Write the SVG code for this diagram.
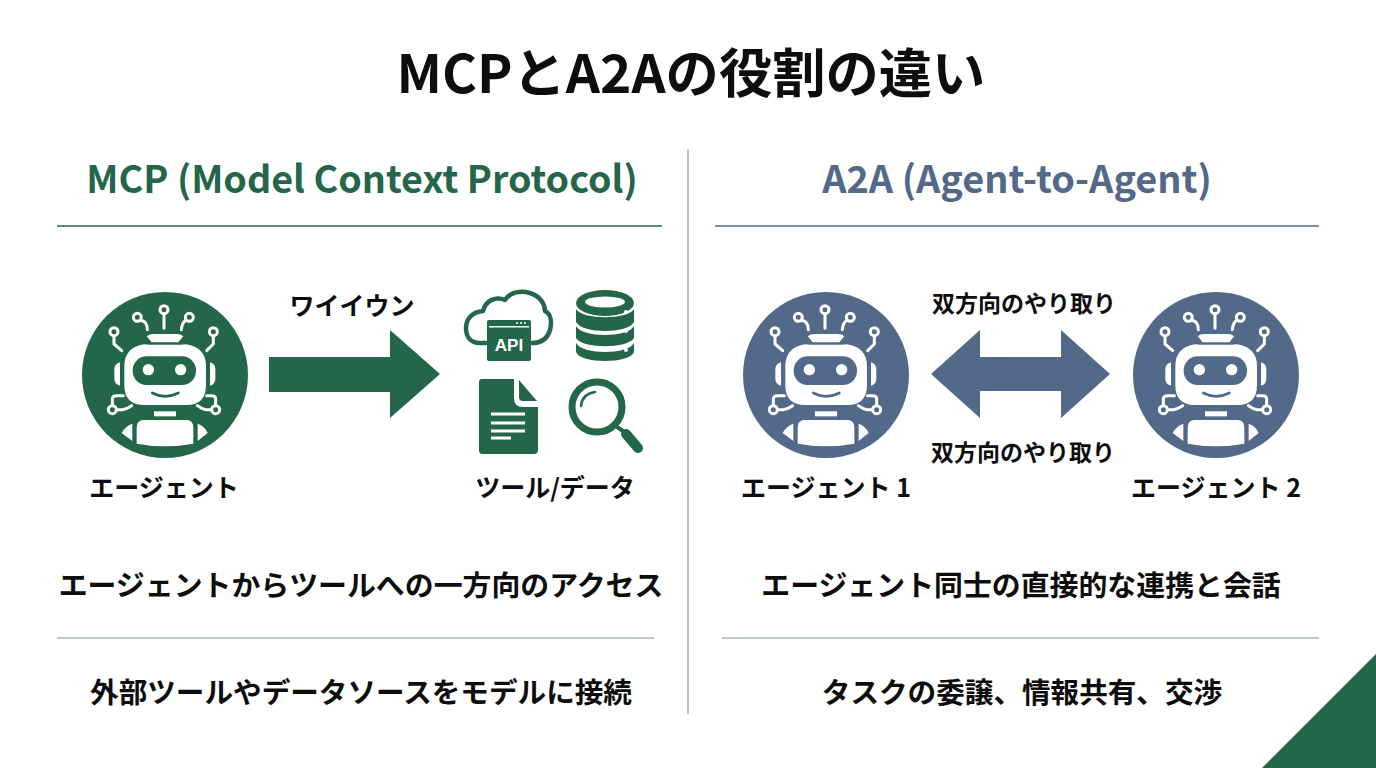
<svg xmlns="http://www.w3.org/2000/svg" xmlns:xlink="http://www.w3.org/1999/xlink" width="1376" height="768" viewBox="0 0 1376 768">
<style>
text{font-family:"Noto Sans CJK JP","Noto Sans",sans-serif;font-weight:700;fill:#0d0d0d;text-anchor:middle}
.title{font-size:53.3px}
.head{font-size:37.7px}
.lab{font-size:25px}
.mid{font-size:23px}
.sub{font-size:28.9px}
.sub2{font-size:28.6px}
.rule{stroke-width:1.5;fill:none}
.w{fill:#fff}
.ws{fill:none;stroke:#fff;stroke-width:9;stroke-linecap:round;stroke-linejoin:round}
.g{fill:#24664a}
.gs{fill:none;stroke:#24664a;stroke-linecap:round;stroke-linejoin:round}
</style>
<defs>
<g id="robot">
<circle r="83" fill="currentColor"/>
<g transform="scale(.3333) translate(-285,-288)">
<path class="w" d="M230 172Q238 165 250 165H320Q332 165 340 172L325 190H245Z"/>
<path class="w" d="M222 196L238 197H332L348 196Q408 205 408 262V318Q408 378 350 378H222Q163 378 163 318V262Q163 205 222 196Z"/>
<rect x="188" y="232" width="190" height="86" rx="42" fill="currentColor"/>
<circle class="w" cx="235" cy="272" r="17"/><circle class="w" cx="332" cy="272" r="17"/>
<path d="M247 342Q285 362 325 342" fill="none" stroke="currentColor" stroke-width="8" stroke-linecap="round"/>
<path class="w" d="M150 250V320Q133 315 133 300V270Q133 255 150 250ZM420 250V320Q436 315 436 300V270Q436 255 420 250Z"/>
<rect class="w" x="252" y="397" width="66" height="15"/>
<path class="w" d="M218 423H352Q370 425 370 445V494Q285 510 200 494V445Q200 425 218 423ZM187 434V486L155 462Q165 442 187 434ZM383 434V486L413 462Q405 442 383 434Z"/>
<g class="ws">
<circle cx="282" cy="92" r="12"/><path d="M282 106V148"/>
<circle cx="202" cy="115" r="12"/><path d="M213 124Q232 128 232 152"/>
<circle cx="358" cy="115" r="12"/><path d="M348 124Q336 130 334 152"/>
<circle cx="132" cy="158" r="12"/><path d="M132 172V195L155 215"/>
<circle cx="430" cy="158" r="12"/><path d="M430 172V195L410 215"/>
<circle cx="127" cy="392" r="12"/><path d="M127 378V360Q127 350 140 350H160M141 392H157Q170 390 185 380"/>
<circle cx="437" cy="392" r="12"/><path d="M437 378V360Q437 350 425 350H410M423 392H408Q395 390 382 380"/>
</g>
</g>
</g>
</defs>
<rect width="1376" height="768" fill="#fff"/>
<text class="title" x="691" y="93">MCPとA2Aの役割の違い</text>
<g id="connectors">
<line x1="688" y1="149" x2="688" y2="714" stroke="#a9b3b1" stroke-width="1.5"/>
<line class="rule" x1="57" y1="226" x2="662" y2="226" stroke="#24664a"/>
<line class="rule" x1="715" y1="226" x2="1319" y2="226" stroke="#52698a"/>
<line class="rule" x1="57" y1="638" x2="654" y2="638" stroke="#a9b8b4"/>
<line class="rule" x1="722" y1="638" x2="1319" y2="638" stroke="#a9b8b4"/>
<polygon id="arrow-mcp" points="269,357 390,357 390,330 440,374 390,418 390,392 269,392" fill="#24664a"/>
<polygon id="arrow-a2a" points="931,374 980,330 980,357 1061,357 1061,330 1110,374 1061,418 1061,391 980,391 980,418" fill="#52698a"/>
</g>
<polygon id="corner" points="1262,768 1376,654 1376,768" fill="#24664a"/>
<text class="head" x="362" y="193" style="fill:#24664a">MCP (Model Context Protocol)</text>
<text class="head" x="1017" y="193" style="fill:#52698a;font-size:37.9px">A2A (Agent-to-Agent)</text>
<text class="lab" x="352" y="315">ワイイウン</text>
<g id="agent"><use href="#robot" transform="translate(165,375)" color="#24664a"/>
<text class="lab" x="164" y="497">エージェント</text></g>
<g id="tools">
<g id="icon-api">
<path class="gs" stroke-width="4.5" d="M486 343H480C470 343 466 336 466 328C466 318 473 312 483 311C486 300 496 296 505 300C510 292 521 290 530 293C540 296 545 304 545 311C551 314 552 322 550 330C547 340 540 343 532 343"/>
<rect class="g" x="487" y="320" width="44" height="41" rx="2"/>
<rect x="489" y="326" width="40" height="1.5" fill="#fff"/>
<circle class="w" cx="517" cy="323" r="1"/><circle class="w" cx="521" cy="323" r="1"/><circle class="w" cx="525" cy="323" r="1"/>
<text x="509" y="351" style="fill:#fff;font-size:17px;font-family:'Liberation Sans',sans-serif">API</text>
</g>
<g id="icon-db">
<ellipse class="g" cx="605" cy="303" rx="29" ry="13"/>
<ellipse cx="605" cy="302" rx="20" ry="5.5" fill="#fff"/>
<path class="g" d="M576 309C582 320 628 320 634 309V322C628 334 582 334 576 322Z"/>
<path class="g" d="M576 327C582 339 628 339 634 327V339C628 350 582 350 576 339Z" transform="translate(0,-1)"/>
<path class="g" d="M576 343C582 355 628 355 634 343V352C630 364 580 364 576 352Z"/>
<circle class="w" cx="626" cy="312" r="2"/><circle class="w" cx="626" cy="331" r="2"/><circle class="w" cx="626" cy="350" r="2"/>
</g>
<g id="icon-doc">
<path class="g" d="M482 379H514V398Q514 407 523 407H538V450Q538 454 534 454H482Q479 454 479 450V382Q479 379 482 379Z"/>
<path class="g" d="M519 380L537 401H523Q519 401 519 397Z"/>
<path d="M491 414H525M491 423H525M491 431H525M491 438H511" stroke="#fff" stroke-width="3"/>
</g>
<g id="icon-search">
<circle cx="597" cy="407" r="25" fill="none" stroke="#24664a" stroke-width="7"/>
<path class="gs" stroke-width="2.5" d="M581 406Q582 394 595 392"/>
<path class="gs" stroke-width="4" d="M617 427L623 431"/>
<path class="gs" stroke-width="10" d="M626 434L638 448"/>
</g>
<text class="lab" x="555" y="497">ツール/データ</text>
</g>
<text class="sub" x="361" y="596">エージェントからツールへの一方向のアクセス</text>
<text class="sub2" x="361" y="703">外部ツールやデータソースをモデルに接続</text>
<g id="agent1"><use href="#robot" transform="translate(826,375)" color="#52698a"/>
<text class="lab" x="826" y="497">エージェント 1</text></g>
<g id="agent2"><use href="#robot" transform="translate(1216,375)" color="#52698a"/>
<text class="lab" x="1216" y="497">エージェント 2</text></g>
<text class="mid" x="1024" y="312">双方向のやり取り</text>
<text class="mid" x="1023" y="461">双方向のやり取り</text>
<text class="sub" x="1021" y="596">エージェント同士の直接的な連携と会話</text>
<text class="sub2" x="1022" y="703">タスクの委譲、情報共有、交渉</text>
</svg>
